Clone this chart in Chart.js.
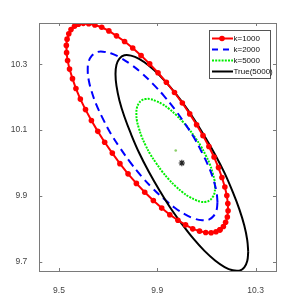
<!DOCTYPE html>
<html>
<head>
<meta charset="utf-8">
<script src="https://cdn.jsdelivr.net/npm/chart.js"></script>
<style>
  html, body { margin: 0; padding: 0; background: #fff; }
  #wrap { width: 305px; height: 305px; }
</style>
</head>
<body>
<div id="wrap"><canvas id="chart" width="305" height="305"></canvas></div>
<script>
// values
var seriesNames = ['k=1000', 'k=2000', 'k=5000', 'True(5000)'];

var redX = [10.155, 10.169, 10.178, 10.185, 10.188, 10.187, 10.183, 10.175, 10.163, 10.149, 10.131, 10.110, 10.086, 10.060, 10.032,
            10.002, 9.970, 9.937, 9.903, 9.869, 9.834, 9.800, 9.767, 9.734, 9.703, 9.674, 9.646, 9.621, 9.599, 9.579,
            9.563, 9.549, 9.540, 9.533, 9.530, 9.531, 9.535, 9.543, 9.555, 9.569, 9.587, 9.608, 9.632, 9.658, 9.686,
            9.717, 9.748, 9.781, 9.815, 9.849, 9.884, 9.918, 9.951, 9.984, 10.015, 10.044, 10.072, 10.097, 10.119, 10.139, 10.155];
var redY = [9.797, 9.807, 9.820, 9.836, 9.855, 9.877, 9.901, 9.927, 9.956, 9.986, 10.018, 10.050, 10.083, 10.116, 10.149,
            10.182, 10.214, 10.245, 10.274, 10.301, 10.326, 10.349, 10.369, 10.386, 10.401, 10.412, 10.419, 10.423, 10.424, 10.421,
            10.415, 10.405, 10.392, 10.376, 10.357, 10.335, 10.311, 10.285, 10.256, 10.226, 10.194, 10.162, 10.129, 10.096, 10.063,
            10.030, 9.998, 9.967, 9.938, 9.911, 9.886, 9.863, 9.843, 9.826, 9.812, 9.800, 9.793, 9.789, 9.788, 9.791, 9.797];

var blueX = [10.145, 10.141, 10.129, 10.110, 10.083, 10.051, 10.013, 9.971, 9.927, 9.881, 9.835, 9.791, 9.749, 9.711, 9.679, 9.652, 9.633, 9.621,
             9.617, 9.621, 9.633, 9.652, 9.679, 9.711, 9.749, 9.791, 9.835, 9.881, 9.927, 9.971, 10.013, 10.051, 10.083, 10.110, 10.129, 10.141, 10.145];
var blueY = [9.881, 9.912, 9.948, 9.987, 10.030, 10.075, 10.119, 10.163, 10.204, 10.241, 10.274, 10.300, 10.320, 10.333, 10.338, 10.336, 10.325, 10.308,
             10.283, 10.252, 10.217, 10.177, 10.134, 10.089, 10.045, 10.001, 9.960, 9.923, 9.891, 9.864, 9.844, 9.831, 9.826, 9.828, 9.839, 9.856, 9.881];

var greenX = [10.135, 10.133, 10.125, 10.114, 10.098, 10.078, 10.055, 10.030, 10.003, 9.975, 9.947, 9.920, 9.895, 9.872, 9.852, 9.836, 9.825, 9.817,
              9.815, 9.817, 9.825, 9.836, 9.852, 9.872, 9.895, 9.920, 9.947, 9.975, 10.003, 10.030, 10.055, 10.078, 10.098, 10.114, 10.125, 10.133, 10.135];
var greenY = [9.926, 9.947, 9.970, 9.996, 10.022, 10.050, 10.076, 10.102, 10.126, 10.147, 10.165, 10.179, 10.188, 10.194, 10.194, 10.190, 10.181, 10.167,
              10.150, 10.129, 10.106, 10.081, 10.054, 10.026, 10.000, 9.974, 9.950, 9.929, 9.911, 9.897, 9.888, 9.882, 9.882, 9.887, 9.896, 9.909, 9.926];

var trueX = [10.270, 10.266, 10.254, 10.234, 10.207, 10.174, 10.135, 10.092, 10.047, 10.000, 9.953, 9.908, 9.865, 9.826, 9.793, 9.766, 9.746, 9.734,
             9.730, 9.734, 9.746, 9.766, 9.793, 9.826, 9.865, 9.908, 9.953, 10.000, 10.047, 10.092, 10.135, 10.174, 10.207, 10.234, 10.254, 10.266, 10.270];
var trueY = [9.730, 9.766, 9.810, 9.859, 9.912, 9.969, 10.026, 10.082, 10.136, 10.186, 10.230, 10.267, 10.296, 10.316, 10.326, 10.327, 10.317, 10.298,
             10.270, 10.234, 10.190, 10.141, 10.088, 10.031, 9.974, 9.918, 9.864, 9.815, 9.770, 9.733, 9.704, 9.684, 9.674, 9.673, 9.683, 9.702, 9.730];

var centerK5000 = [9.975, 10.038];
var trueCenter = [10.0, 10.0];

var xTicks = [9.5, 9.9, 10.3];
var yTicks = [9.7, 9.9, 10.1, 10.3];
var xRange = [9.42, 10.383];
var yRange = [9.672, 10.425];

function pts(xs, ys) {
    var out = [];
    for (var i = 0; i < xs.length; i++) out.push({x: xs[i], y: ys[i]});
    return out;
}

var tickFont = {family: "'Liberation Sans Narrow', 'Liberation Sans', Arial, sans-serif", size: 8.5};

// box round the axes with inward tick marks, matlab style
var boxPlugin = {
    id: 'box',
    afterDatasetsDraw: function (chart) {
        var ctx = chart.ctx, a = chart.chartArea;
        var xs = chart.scales.x, ys = chart.scales.y;
        ctx.save();
        ctx.strokeStyle = '#7a7a7a';
        ctx.lineWidth = 1;
        ctx.strokeRect(Math.round(a.left) + 0.5, Math.round(a.top) + 0.5,
                       Math.round(a.right - a.left), Math.round(a.bottom - a.top));
        ctx.beginPath();
        xTicks.forEach(function (v) {
            var px = Math.round(xs.getPixelForValue(v)) + 0.5;
            ctx.moveTo(px, a.bottom); ctx.lineTo(px, a.bottom - 3);
            ctx.moveTo(px, a.top); ctx.lineTo(px, a.top + 3);
        });
        yTicks.forEach(function (v) {
            var py = Math.round(ys.getPixelForValue(v)) + 0.5;
            ctx.moveTo(a.left, py); ctx.lineTo(a.left + 3, py);
            ctx.moveTo(a.right, py); ctx.lineTo(a.right - 3, py);
        });
        ctx.stroke();
        ctx.restore();
    }
};

var legendPlugin = {
    id: 'boxLegend',
    afterDraw: function (chart) {
        var ctx = chart.ctx;
        var left = 209.5, top = 30.5, w = 61, h = 48;
        ctx.save();
        ctx.fillStyle = '#fff';
        ctx.fillRect(left, top, w, h);
        ctx.strokeStyle = '#555';
        ctx.lineWidth = 1;
        ctx.strokeRect(left, top, w, h);
        var styles = [
            {color: '#ff0000', dash: [], dot: true},
            {color: '#0000ff', dash: [6, 5]},
            {color: '#00ee00', dash: [2, 1.2]},
            {color: '#000000', dash: []}
        ];
        ctx.font = "8px 'Liberation Sans Narrow', 'Liberation Sans', Arial, sans-serif";
        ctx.textBaseline = 'middle';
        for (var i = 0; i < seriesNames.length; i++) {
            var y = 38.5 + i * 11;
            var st = styles[i];
            ctx.strokeStyle = st.color;
            ctx.lineWidth = 2;
            ctx.setLineDash(st.dash);
            ctx.beginPath();
            ctx.moveTo(212, y); ctx.lineTo(233, y);
            ctx.stroke();
            ctx.setLineDash([]);
            if (st.dot) {
                ctx.fillStyle = st.color;
                ctx.beginPath();
                ctx.arc(222, y, 2.8, 0, Math.PI * 2);
                ctx.fill();
            }
            ctx.fillStyle = '#111';
            ctx.fillText(seriesNames[i], 233.5, y + 0.5);
        }
        ctx.restore();
    }
};

var ctx = document.getElementById('chart');

var chart = new Chart(ctx, {
    type: 'scatter',
    data: {
        datasets: [
            {
                label: seriesNames[0],
                data: pts(redX, redY),
                showLine: true,
                borderColor: '#ff0000',
                borderWidth: 2,
                pointRadius: 2.8,
                pointBackgroundColor: '#ff0000',
                pointBorderWidth: 0,
                order: 1
            },
            {
                label: seriesNames[1],
                data: pts(blueX, blueY),
                showLine: true,
                borderColor: '#0000ff',
                borderWidth: 2,
                borderDash: [8, 5],
                tension: 0.4,
                pointRadius: 0,
                order: 3
            },
            {
                label: seriesNames[2],
                data: pts(greenX, greenY),
                showLine: true,
                borderColor: '#00ee00',
                borderWidth: 2,
                borderDash: [2, 1.2],
                tension: 0.4,
                pointRadius: 0,
                order: 4
            },
            {
                label: seriesNames[3],
                data: pts(trueX, trueY),
                showLine: true,
                borderColor: '#000000',
                borderWidth: 2,
                tension: 0.4,
                pointRadius: 0,
                order: 2
            },
            {
                label: 'center k=5000',
                data: [{x: centerK5000[0], y: centerK5000[1]}],
                pointRadius: 1.3,
                pointBackgroundColor: '#8ccf6a',
                pointBorderWidth: 0,
                order: 5
            },
            {
                label: 'true',
                data: [{x: trueCenter[0], y: trueCenter[1]}],
                pointStyle: 'star',
                pointRadius: 3.2,
                pointBorderColor: '#222',
                pointBorderWidth: 1.1,
                order: 5
            }
        ]
    },
    options: {
        responsive: false,
        animation: false,
        devicePixelRatio: 1,
        layout: {padding: {top: 23, right: 29, left: 0, bottom: 0}},
        plugins: {legend: {display: false}, tooltip: {enabled: false}},
        scales: {
            x: {
                type: 'linear',
                min: xRange[0],
                max: xRange[1],
                afterBuildTicks: function (s) { s.ticks = xTicks.map(function (v) { return {value: v}; }); },
                afterFit: function (s) { s.height = 34; },
                grid: {display: false},
                border: {display: false},
                ticks: {
                    font: tickFont,
                    color: '#444',
                    padding: 7,
                    maxRotation: 0,
                    callback: function (v) { return String(v); }
                }
            },
            y: {
                type: 'linear',
                min: yRange[0],
                max: yRange[1],
                afterBuildTicks: function (s) { s.ticks = yTicks.map(function (v) { return {value: v}; }); },
                afterFit: function (s) { s.width = 39.3; },
                grid: {display: false},
                border: {display: false},
                ticks: {
                    font: tickFont,
                    color: '#444',
                    padding: 4,
                    callback: function (v) { return String(v); }
                }
            }
        }
    },
    plugins: [boxPlugin, legendPlugin]
});
</script>
</body>
</html>
